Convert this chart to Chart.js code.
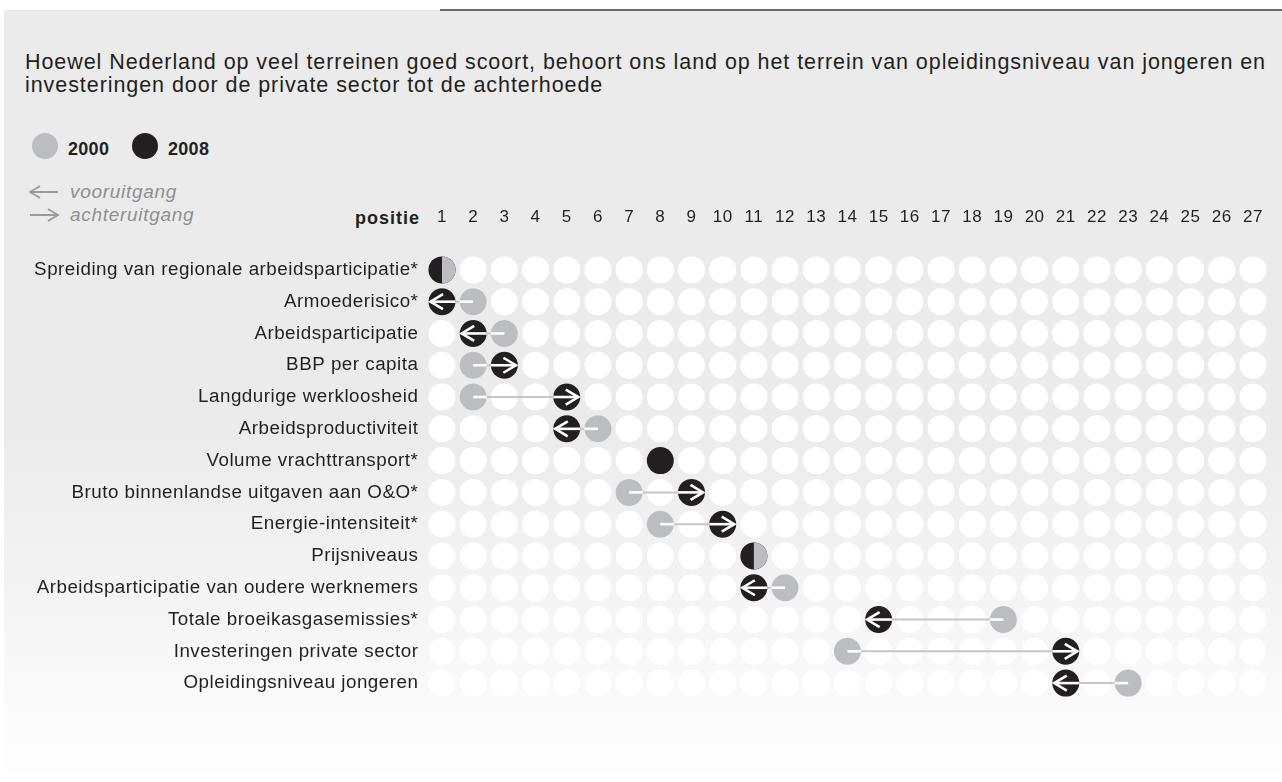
<!DOCTYPE html>
<html><head><meta charset="utf-8">
<script src="https://cdn.jsdelivr.net/npm/chart.js@4.4.1/dist/chart.umd.min.js"></script>
<style>
html,body{margin:0;padding:0;background:#fff;}
#wrap{position:relative;width:1282px;height:782px;overflow:hidden;font-family:"Liberation Sans",Arial,sans-serif;color:#231f20;}
#panel{position:absolute;left:4px;top:10px;width:1278px;height:764px;background:linear-gradient(to bottom,#ebebeb 0%,#ebebeb 55%,#fefefe 100%);}
#topline{position:absolute;left:440px;top:9px;width:842px;height:2px;background:#6b6b6b;}
#title{position:absolute;left:25px;top:51px;font-size:21.5px;line-height:23px;letter-spacing:0.93px;white-space:nowrap;}
.dot{position:absolute;width:26px;height:26px;border-radius:50%;}
.lg{position:absolute;font-weight:bold;font-size:18px;line-height:18px;letter-spacing:0.3px;}
.ar{position:absolute;font-style:italic;font-size:19px;line-height:19px;color:#8f8f8f;letter-spacing:0.7px;}
#positie{position:absolute;right:862px;top:209px;font-weight:bold;font-size:18px;line-height:18px;letter-spacing:1px;}
canvas{position:absolute;left:0;top:0;}
</style></head>
<body><div id="wrap">
<div id="panel"></div>
<div id="topline"></div>
<div id="title">Hoewel Nederland op veel terreinen goed scoort, behoort ons land op het terrein van opleidingsniveau van jongeren en<br>investeringen door de private sector tot de achterhoede</div>
<div class="dot" style="left:32px;top:133px;background:#bcbdc0"></div>
<div class="lg" style="left:68px;top:140px">2000</div>
<div class="dot" style="left:132px;top:133px;background:#231f20"></div>
<div class="lg" style="left:168px;top:140px">2008</div>
<svg style="position:absolute;left:24px;top:182px" width="40" height="42">
 <g stroke="#9a9a9a" stroke-width="1.8" fill="none">
  <path d="M6 10 H34 M16 4 L6 10 L16 16"/>
  <path d="M6 33 H34 M24 27 L34 33 L24 39"/>
 </g>
</svg>
<div class="ar" style="left:70px;top:182px">vooruitgang</div>
<div class="ar" style="left:70px;top:205px">achteruitgang</div>
<div id="positie">positie</div>
<canvas id="c" width="1282" height="782"></canvas>
</div>
<script>
const categories = [
  "Spreiding van regionale arbeidsparticipatie*",
  "Armoederisico*",
  "Arbeidsparticipatie",
  "BBP per capita",
  "Langdurige werkloosheid",
  "Arbeidsproductiviteit",
  "Volume vrachttransport*",
  "Bruto binnenlandse uitgaven aan O&O*",
  "Energie-intensiteit*",
  "Prijsniveaus",
  "Arbeidsparticipatie van oudere werknemers",
  "Totale broeikasgasemissies*",
  "Investeringen private sector",
  "Opleidingsniveau jongeren"
];
const positions = [1,2,3,4,5,6,7,8,9,10,11,12,13,14,15,16,17,18,19,20,21,22,23,24,25,26,27];
const rank2000 = [1,2,3,2,2,6,null,7,8,11,12,19,14,23];
const rank2008 = [1,1,2,3,5,5,8,9,10,11,11,15,21,21];

const R = 13.5;
const GRAY = "#bcbdc0", BLACK = "#231f20", LINE = "#c6c6c6";

const gridData = [];
categories.forEach(c => positions.forEach(p => gridData.push({x:p, y:c})));
const d2000 = categories.map((c,i)=>({x:rank2000[i], y:c})).filter(d=>d.x!==null);
const d2008 = categories.map((c,i)=>({x:rank2008[i], y:c})).filter(d=>d.x!==null);

const arrowPlugin = {
  id:'arrows',
  beforeDraw(chart){ chart.ctx.letterSpacing = '0.5px'; },
  beforeDatasetDraw(chart, args){
    if (args.index !== 1) return;
    const xs = chart.scales.x, ys = chart.scales.y, ctx = chart.ctx;
    ctx.save();
    ctx.strokeStyle = LINE; ctx.lineWidth = 2;
    categories.forEach((c,i)=>{
      const a = rank2000[i], b = rank2008[i];
      if (a===null || b===null || a===b) return;
      const y = ys.getPixelForValue(i);
      ctx.beginPath();
      ctx.moveTo(xs.getPixelForValue(a), y);
      ctx.lineTo(xs.getPixelForValue(b), y);
      ctx.stroke();
    });
    ctx.restore();
  },
  afterDatasetsDraw(chart){
    const xs = chart.scales.x, ys = chart.scales.y, ctx = chart.ctx;
    ctx.save();
    categories.forEach((c,i)=>{
      const a = rank2000[i], b = rank2008[i];
      if (a===null || b===null) return;
      const y = ys.getPixelForValue(i);
      const gx = xs.getPixelForValue(a), bx = xs.getPixelForValue(b);
      if (a===b){
        ctx.fillStyle = GRAY;
        ctx.beginPath();
        ctx.arc(bx, y, R, -Math.PI/2, Math.PI/2);
        ctx.closePath();
        ctx.fill();
        return;
      }
      const dir = b > a ? 1 : -1;
      ctx.strokeStyle = "#ffffff";
      ctx.lineWidth = 2.6;
      ctx.lineCap = "butt";
      ctx.beginPath();
      ctx.moveTo(gx, y); ctx.lineTo(gx + dir*R, y); ctx.stroke();
      const tip = bx + dir*11.5;
      ctx.beginPath();
      ctx.moveTo(bx - dir*R, y); ctx.lineTo(tip, y); ctx.stroke();
      ctx.lineJoin = "miter";
      ctx.beginPath();
      ctx.moveTo(tip - dir*12.5, y - 7.5);
      ctx.lineTo(tip, y);
      ctx.lineTo(tip - dir*12.5, y + 7.5);
      ctx.stroke();
    });
    ctx.restore();
  }
};

new Chart(document.getElementById('c'), {
  type:'scatter',
  data:{
    datasets:[
      {data:gridData, order:3, pointRadius:R, pointHoverRadius:R, backgroundColor:"#ffffff", pointBackgroundColor:"#ffffff", borderWidth:0, pointBorderWidth:0},
      {data:d2000, order:2, pointRadius:R, pointHoverRadius:R, backgroundColor:GRAY, pointBackgroundColor:GRAY, borderWidth:0, pointBorderWidth:0},
      {data:d2008, order:1, pointRadius:R, pointHoverRadius:R, backgroundColor:BLACK, pointBackgroundColor:BLACK, borderWidth:0, pointBorderWidth:0}
    ]
  },
  options:{
    responsive:false,
    animation:false,
    events:[],
    layout:{padding:{left:0, right:12.4, top:0, bottom:83}},
    plugins:{legend:{display:false}, tooltip:{enabled:false}},
    scales:{
      x:{
        type:'linear', position:'top', min:0.5, max:27.5,
        afterBuildTicks(s){ s.ticks = positions.map(v=>({value:v})); },
        afterFit(s){ s.height = 254; s.paddingLeft = 0; s.paddingRight = 0; },
        grid:{display:false, drawTicks:false}, border:{display:false},
        ticks:{color:BLACK, font:{family:"Liberation Sans", size:17}, padding:26, maxRotation:0, autoSkip:false,
               callback:(v)=>String(v)}
      },
      y:{
        type:'category', labels:categories, offset:true,
        afterFit(s){ s.width = 426.4; s.paddingTop = 0; s.paddingBottom = 0; },
        grid:{display:false, drawTicks:false}, border:{display:false},
        ticks:{color:BLACK, font:{family:"Liberation Sans", size:18.8}, padding:8, autoSkip:false}
      }
    }
  },
  plugins:[arrowPlugin]
});
</script>
</body></html>
